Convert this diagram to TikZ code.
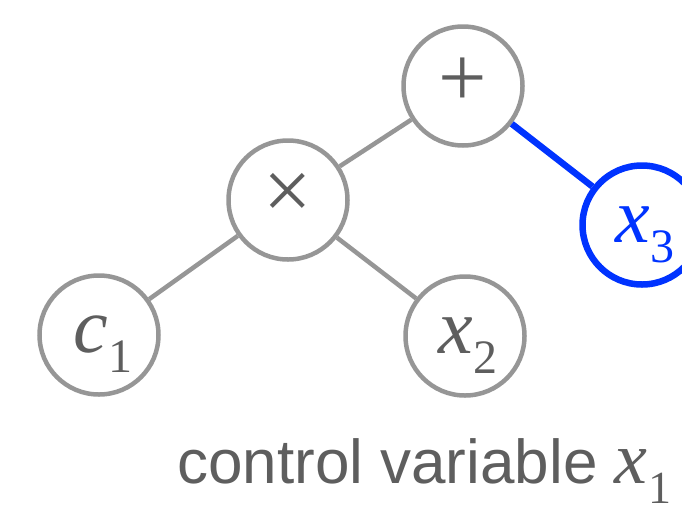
\documentclass[tikz,border=0pt]{standalone}
\usepackage{fontspec}
\setmainfont{Liberation Sans}
\newfontfamily\serifvar{Liberation Serif}
\definecolor{ringgrey}{HTML}{969696}
\definecolor{inkgrey}{HTML}{5E5E5E}
\definecolor{hiblue}{HTML}{0033FF}
% italic variable with an upright subscript
\newcommand{\tvar}[2]{{\serifvar\itshape #1}\kern1pt\raisebox{-20pt}{\fontsize{48}{48}\serifvar #2}}
\tikzset{
  opnode/.style={circle, draw=ringgrey, line width=4.5pt, minimum size=119pt, inner sep=0pt,
                 text=inkgrey, font=\fontsize{86}{86}\serifvar},
  varnode/.style={opnode, font=\fontsize{78}{78}\selectfont, text height=34pt, text depth=0pt},
  pickednode/.style={varnode, draw=hiblue, line width=6.5pt, text=hiblue},
  treeedge/.style={draw=ringgrey, line width=4.5pt},
  pickededge/.style={draw=hiblue, line width=6.5pt}
}
\begin{document}
\begin{tikzpicture}[x=1pt,y=-1pt]
  \useasboundingbox (0,0) rectangle (682,504);
  \node[opnode] (plus) at (463,86) {\raisebox{8pt}{+}};
  \node[opnode] (times) at (288,200) {\raisebox{8pt}{×}};
  \node[varnode] (c1) at (99,335) {\kern8pt\tvar{c}{1}};
  \node[varnode] (x2) at (465,336) {\kern6pt\tvar{x}{2}};
  \node[pickednode] (x3) at (642,225) {\kern6pt\tvar{x}{3}};
  \draw[treeedge] (plus) -- (times);
  \draw[treeedge] (times) -- (c1);
  \draw[treeedge] (times) -- (x2);
  \draw[pickededge] (plus) -- (x3);
  \node[anchor=base west, inner sep=0pt, text=inkgrey, font=\fontsize{62}{62}\selectfont]
    (caption) at (177,483) {control variable {\fontsize{74}{74}\serifvar\itshape x}\kern1pt\raisebox{-20pt}{\fontsize{46}{46}\serifvar 1}};
\end{tikzpicture}
\end{document}
